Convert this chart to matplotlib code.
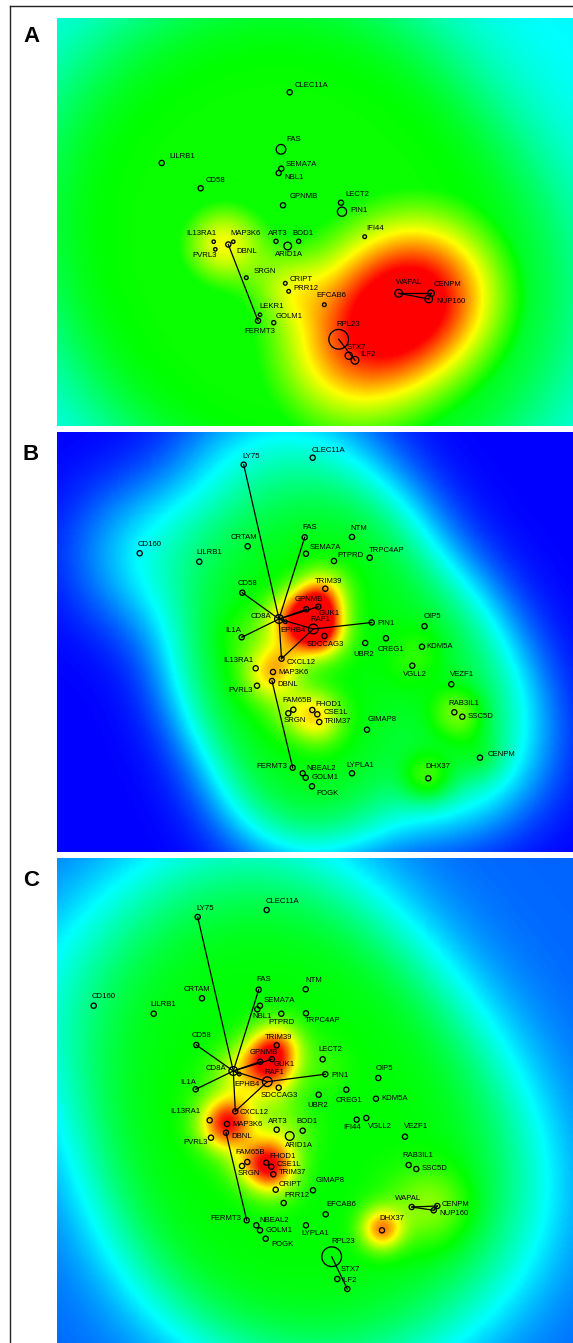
import numpy as np
import matplotlib
matplotlib.use("Agg")
import matplotlib.pyplot as plt
from matplotlib.colors import LinearSegmentedColormap
from matplotlib.lines import Line2D

plt.rcParams['font.family'] = ['Liberation Sans', 'DejaVu Sans']

# ---------------- data: panel A ----------------
A_genes = ["CLEC11A","FAS","SEMA7A","NBL1","LILRB1","CD58","GPNMB","LECT2","PIN1","IFI44",
           "IL13RA1","MAP3K6","DBNL","ART3","BOD1","ARID1A","PVRL3","SRGN","CRIPT","PRR12",
           "EFCAB6","LEKR1","FERMT3","GOLM1","WAPAL","CENPM","NUP160","RPL23","STX7","ILF2"]
A_x = [289.7,281,281.3,278.7,161.7,200.7,283,341,342,364.7,
       213.7,233.3,228.3,276,298.7,287.7,215.3,246.3,285.3,288.7,
       324.3,260,258,273.7,398.7,431,428.7,338.7,348.7,355]
A_y = [92.3,149.3,168.7,173,163,188.3,205.3,202.7,211.7,236.7,
       241.7,241.7,244.5,241.3,241.3,246,249.3,277.7,283.3,291.3,
       304.7,314.7,320.7,322.7,293.3,293.3,299,339.3,355.7,360.3]
A_size = [6.5,11,6.5,6.5,6.5,6.5,6.5,6.5,10.5,5,
          4.7,4.7,6.5,5.5,5.5,9,4.7,5,5,5,
          5,4.7,6.5,5.5,9,8,9,21,8.5,9]
# heat level of every gene and the spread (px) of its heat
A_heat = [0,0,0,0,0,0,0,0,0,0,
          0.44,0.44,0.44,0,0,0,0.44,0,0.35,0.35,
          0,0,0,0,1,1,1,0.35,0.75,0.75]
A_spread = [25]*10 + [30]*3 + [25]*3 + [30] + [25]*7 + [60]*6
A_lx = [295,286.7,286,284,169.3,206,289.3,345.7,350,366,
        186.7,230.7,236.7,267.7,292.7,275,192.7,253.3,290,293.3,
        316.7,259.3,244,276,396,433.3,436,336.7,346.7,360]
A_ly = [85.7,140,165,178,157,180.7,196.7,195,211,229,
        233.7,233.7,251.7,233.7,233.7,254.3,256,271.7,280,289,
        295.7,307,331.7,316.3,282.7,284.3,302,324.7,347.7,355]
A_edges = [("DBNL","FERMT3"),("WAPAL","CENPM"),("WAPAL","NUP160"),("CENPM","NUP160"),
           ("RPL23","ILF2")]

# ---------------- data: panel B ----------------
B_genes = ["LY75","CLEC11A","CD160","LILRB1","CRTAM","FAS","NTM","SEMA7A","PTPRD","TRPC4AP",
           "TRIM39","CD58","GPNMB","GUK1","CD8A","EPHB4","RAF1","PIN1","IL1A","SDCCAG3",
           "UBR2","CREG1","OIP5","KDM5A","CXCL12","IL13RA1","MAP3K6","DBNL","PVRL3","VGLL2",
           "VEZF1","FAM65B","SRGN","FHOD1","CSE1L","TRIM37","GIMAP8","RAB3IL1","SSC5D","CENPM",
           "FERMT3","NBEAL2","GOLM1","POGK","LYPLA1","DHX37"]
B_x = [243.7,312.7,139.7,199.3,247.7,304.7,352,306,334,369.7,
       325.3,242.3,306.3,318.3,279,285.3,313.3,371.7,241.7,324.5,
       365.2,386,424.5,422,281.5,255.7,273,272,257,412.3,
       451.3,293.3,288.3,312.3,317.3,319.3,367,454.3,462.3,480,
       292.7,302.7,305.7,312,352,428.3]
B_y = [464.7,457.7,553.3,561.7,546.3,537.3,537,553.7,561,557.7,
       588.7,592.7,609.3,606.7,619,621.7,629,622.5,637.3,636,
       643,638.3,626.2,646.7,658.7,668.3,672,681,685.7,665.7,
       684.3,709.7,713.3,710,714.3,722,729.7,712.3,716.7,757.7,
       767.7,773.3,777.7,786.3,773.3,778.3]
B_size = [6.5]*14 + [10, 5, 11] + [6.5]*29
B_heat = [0,0,0,0,0,0,0,0,0,0,
          0.3,0,0.35,0.5,0.18,0.18,0.8,0,0.1,0.3,
          0,0,0,0.08,0.3,0.1,0.18,0.18,0.05,0.08,
          0,0.1,0.1,0.12,0.12,0.3,0,0.15,0.2,0.15,
          0,0,0,0,0,0.35]
B_spread = [18]*len(B_genes)
B_lx = [242.7,312,138,196,231,302,350.7,309.3,337.3,368.7,
        315.3,238,294.3,318.7,251,280,310.7,377.7,225.7,306.7,
        353.3,378,424,426.7,286.7,223.3,278,277.3,228.7,402.7,
        450,282,284,315.3,323.3,324,367.7,448.7,467.7,487.3,
        256.7,306,312,316.7,346.7,425]
B_ly = [456.7,450,544.7,552.7,537.7,527.7,529,547.7,555.7,550,
        581.7,583.7,599.7,613.3,616.7,631,619.3,623.7,630,644,
        654,649.3,616,646,662,660,673,684.7,690.3,675,
        675,701,721,704,712.3,721.3,719.7,703.7,716.3,754.3,
        766,768.7,777.7,793.3,765.7,766.7]
B_edges = [("LY75","CD8A"),("FAS","CD8A"),("CD58","CD8A"),("IL1A","CD8A"),("CD8A","GPNMB"),
           ("CD8A","GUK1"),("CD8A","RAF1"),("CD8A","EPHB4"),("CD8A","CXCL12"),("CXCL12","RAF1"),
           ("RAF1","PIN1"),("DBNL","FERMT3")]

# ---------------- data: panel C ----------------
C_genes = ["LY75","CLEC11A","CD160","LILRB1","CRTAM","FAS","NTM","SEMA7A","NBL1","PTPRD",
           "TRPC4AP","CD58","TRIM39","LECT2","GPNMB","GUK1","CD8A","EPHB4","RAF1","PIN1",
           "OIP5","IL1A","SDCCAG3","UBR2","CREG1","KDM5A","CXCL12","IL13RA1","MAP3K6","DBNL",
           "ART3","BOD1","ARID1A","IFI44","VGLL2","VEZF1","PVRL3","FAM65B","SRGN","FHOD1",
           "CSE1L","TRIM37","RAB3IL1","SSC5D","CRIPT","GIMAP8","PRR12","EFCAB6","WAPAL","CENPM",
           "NUP160","FERMT3","NBEAL2","GOLM1","LYPLA1","DHX37","POGK","RPL23","STX7","ILF2"]
C_x = [197.7,266.7,93.7,153.7,202,258.7,305.7,260,257.3,281.3,
       306,196.3,276.7,322.7,260.2,272,233.3,239.3,267.3,325.3,
       378.3,195.7,278.7,318.7,346.3,376,235.3,209.7,227,226,
       276.7,302.7,289.7,356.7,366.3,405,211,247.3,242,266.3,
       271.3,273.3,408.7,416.3,275.7,313,283.7,325.7,411.7,437.3,
       433.7,246.7,256.3,260,306,382,265.7,331.7,337.3,347.3]
C_y = [917,910,1005.7,1013.7,998.3,989.7,989.3,1005.7,1009.3,1013.7,
       1013.3,1045,1045.3,1059.3,1061.7,1059.2,1071,1074,1081.7,1074.2,
       1078,1089.3,1087.7,1094.7,1089.7,1098.7,1111.3,1120.3,1124,1132.7,
       1129.7,1130.7,1136,1119.7,1118,1136.7,1137.7,1162,1166,1162.7,
       1166.7,1174.3,1165,1169,1189.7,1190.3,1203,1214.3,1207,1206,
       1210.3,1220.3,1225.3,1230.3,1225.3,1230.3,1238.7,1256.7,1279,1289]
C_size = [6.5]*16 + [10, 5, 11] + [6.5]*13 + [10] + [6.5]*24 + [21, 6.5, 6.5]
C_heat = [0,0,0,0,0,0,0,0,0,0,
          0,0,0.45,0.05,0.22,0.5,0.18,0.12,0.22,0.05,
          0,0.03,0.14,0,0,0,0.22,0.1,0.6,0.16,
          0.14,0.04,0.08,0,0,0,0.03,0.12,0.06,0.45,
          0.32,0.22,0,0,0.04,0,0,0,0.08,0.12,
          0.12,0,0,0,0,0.7,0,0,0,0]
C_spread = [18]*48 + [28, 28, 28] + [18]*4 + [15] + [18]*4
C_lx = [196.7,266,92,150,184,256,305,263.3,252.7,268.3,
        305.3,192,264.7,318.7,250,273.3,205.3,234.3,264,331.7,
        376,180,261,307.3,336,381.3,240,170,232.3,231.7,
        268.3,296.7,285,343.3,368,404.3,183.3,235.7,237.7,269,
        276.7,278.7,402.7,421.3,279,315.3,284,326,395.3,441.7,
        439.3,210,259.3,266,301.7,379,271,331,341,341.7]
C_ly = [908.3,901.7,997,1004,989.7,979.3,980.3,1000.3,1016,1023,
        1021,1035.7,1037.7,1049.7,1053,1065,1068.2,1084,1072.3,1075.7,
        1068.7,1082,1095.7,1105.7,1101,1098,1112.7,1111.7,1125,1137,
        1121.7,1121.7,1145.7,1127.7,1126.7,1126.7,1142,1152.7,1173.3,1156.7,
        1164.3,1173,1155.7,1168,1184.7,1180.7,1195.7,1205,1199,1204,
        1213.3,1218.3,1221,1230.3,1233.7,1219,1245,1241.7,1269.7,1280]
C_edges = B_edges + [("WAPAL","CENPM"),("WAPAL","NUP160"),("CENPM","NUP160"),("RPL23","ILF2")]

panel_labels = ["A", "B", "C"]

# ---------------- drawing ----------------
W, H = 573, 1343
fig = plt.figure(figsize=(W/100, H/100), dpi=100)

cmap = LinearSegmentedColormap.from_list(
    "land", [(0, (0, 0, 1)), (0.25, (0, 1, 1)), (0.5, (0, 1, 0)),
             (0.75, (1, 1, 0)), (1.0, (1, 0, 0))])


def landscape(xs, ys, heat, spread, box, offset, amp, sig_b, k_b, h0, h1):
    x0, x1, y0, y1 = box
    gx = np.arange(x0, x1 + 2, 2.0)
    gy = np.arange(y0, y1 + 2, 2.0)
    X, Y = np.meshgrid(gx, gy)
    D = np.zeros_like(X)
    Hh = np.zeros_like(X)
    for x, y, h, sg in zip(xs, ys, heat, spread):
        r2 = (X - x) ** 2 + (Y - y) ** 2
        D += np.exp(-r2 / (2 * sig_b ** 2))
        if h:
            Hh += h * np.exp(-r2 / (2 * sg ** 2))
    hot = np.clip((Hh - h0) / (h1 - h0), 0, 1)
    F = offset + amp * (1 - np.exp(-k_b * D)) + (1 - offset - amp) * hot
    return np.clip(F, 0, 1)


panels = [
    dict(g=A_genes, x=A_x, y=A_y, s=A_size, h=A_heat, sp=A_spread, lx=A_lx, ly=A_ly,
         e=A_edges, box=(57, 573, 18, 426), par=(0.24, 0.27, 90, 0.7, 0.6, 3.0), lab_y=37),
    dict(g=B_genes, x=B_x, y=B_y, s=B_size, h=B_heat, sp=B_spread, lx=B_lx, ly=B_ly,
         e=B_edges, box=(57, 573, 432, 852), par=(0.0, 0.5, 50, 0.4, 0.0, 1.0), lab_y=454),
    dict(g=C_genes, x=C_x, y=C_y, s=C_size, h=C_heat, sp=C_spread, lx=C_lx, ly=C_ly,
         e=C_edges, box=(57, 573, 858, 1343), par=(0.1, 0.4, 75, 0.3, 0.0, 1.0), lab_y=881),
]

for p, letter in zip(panels, panel_labels):
    x0, x1, y0, y1 = p["box"]
    ax = fig.add_axes([x0 / W, 1 - y1 / H, (x1 - x0) / W, (y1 - y0) / H])
    F = landscape(p["x"], p["y"], p["h"], p["sp"], p["box"], *p["par"])
    ax.imshow(F, cmap=cmap, vmin=0, vmax=1, extent=[x0, x1, y1, y0], origin="upper",
              aspect="auto", interpolation="bilinear")
    ax.set_xlim(x0, x1)
    ax.set_ylim(y1, y0)
    ax.axis("off")
    idx = {g: i for i, g in enumerate(p["g"])}
    for a, b in p["e"]:
        i, j = idx[a], idx[b]
        ax.plot([p["x"][i], p["x"][j]], [p["y"][i], p["y"][j]], color="black", lw=0.9,
                zorder=2)
    sizes = [((d - 1.3) * 0.72) ** 2 for d in p["s"]]
    ax.scatter(p["x"], p["y"], s=sizes, facecolors="none", edgecolors="black",
               linewidths=0.95, zorder=3)
    for g, lx, ly in zip(p["g"], p["lx"], p["ly"]):
        ax.text(lx, ly, g, ha="left", va="center", fontsize=5.6, color="black", zorder=4)
    fig.text(31 / W, 1 - p["lab_y"] / H, letter, ha="center", va="center",
             fontsize=16, fontweight="bold")

# outer frame
fig.add_artist(Line2D([9.5 / W, 9.5 / W], [0, 1 - 6 / H], color="#222222", lw=1.0))
fig.add_artist(Line2D([9.5 / W, 1], [1 - 6 / H, 1 - 6 / H], color="#222222", lw=1.0))

fig.savefig("out.png", dpi=100)
